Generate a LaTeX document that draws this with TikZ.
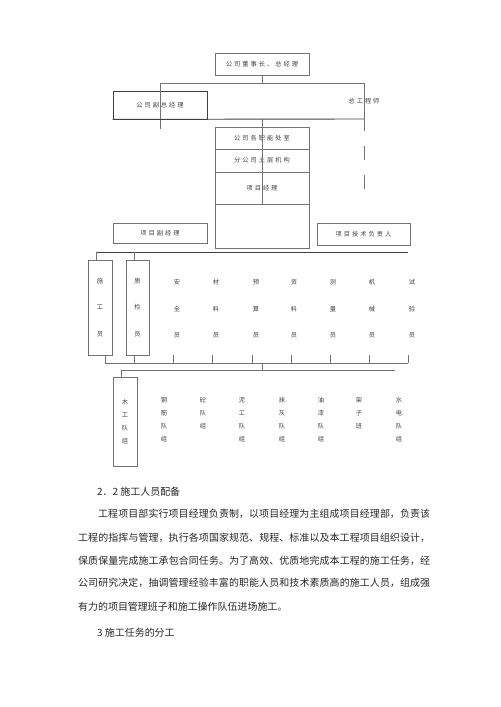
\documentclass[tikz,border=0pt]{standalone}
\usepackage{fontspec}
\newfontfamily\cjk{Noto Sans CJK SC}
\newfontfamily\cjksp[LetterSpace=32]{Noto Sans CJK SC}
\usetikzlibrary{positioning}
\XeTeXlinebreaklocale "zh"
\XeTeXlinebreakskip=0pt plus 1pt

\definecolor{linegray}{gray}{0.45}
\definecolor{textgray}{gray}{0.25}
\newcommand{\pxl}{0.4233mm}

\tikzset{
  orgbox/.style={draw=linegray, line width=0.6pt, inner sep=0pt, text=textgray,
    font=\cjksp\fontsize{7.5}{9}\selectfont},
  widebox/.style={orgbox, minimum width={94*\pxl}},
  slimbox/.style={orgbox, minimum width={24*\pxl}, align=center},
  conn/.style={draw=linegray, line width=0.6pt},
  busline/.style={draw=black!75, line width=1.1pt},
  colnode/.style={inner sep=0pt, anchor=north, align=center, text=textgray},
  bodyline/.style={inner sep=0pt, anchor=west, text=black!85,
    font=\cjk\fontsize{12}{14}\selectfont}
}

\begin{document}
\begin{tikzpicture}[x=\pxl, y=-\pxl]
  \useasboundingbox (0,0) rectangle (500,707);

  % company level
  \node[widebox, minimum height={22*\pxl}] (chair) at (262,64) {公司董事长、总经理};
  \node[widebox, minimum height={28*\pxl}, draw=black!75, line width=0.9pt] (vice) at (160,105) {公司副总经理};
  \node[inner sep=0pt, text=textgray, font=\cjksp\fontsize{7.5}{9}\selectfont] (chiefeng) at (364,101) {总工程师};

  \coordinate (busL) at (160,83);
  \coordinate (busR) at (364,83);
  \coordinate (viceDrop) at (160,129);
  \coordinate (engA) at (364,131);
  \coordinate (engB) at (364,146);
  \coordinate (engC) at (364,189);
  \coordinate (engBar) at (364,119);

  \draw[conn] (chair) -- (chair.south |- busL);
  \draw[conn] (busL) -- (busR);
  \draw[conn] (busL) -- (viceDrop);
  \draw[conn] (busR) -- (engA);
  \draw[conn, dash pattern=on 16.8pt off 18pt] (engB) -- (engC);
  \draw[busline] (vice.south west) -- (engBar);

  % branch / project stack
  \node[widebox, minimum height={22*\pxl}] (offices) at (262,138) {公司各职能处室};
  \node[widebox, minimum height={23*\pxl}] (branch) at (262,160.5) {分公司土层机构};
  \node[widebox, minimum height={32*\pxl}] (pm) at (262,188) {项目经理};
  \node[widebox, minimum height={44*\pxl}] (blank) at (262,226) {};
  \draw[conn] (offices.north |- engBar) -- (pm.south);

  \node[widebox, minimum height={20*\pxl}] (vpm) at (160,233) {项目副经理};
  \node[orgbox, minimum width={93*\pxl}, minimum height={22*\pxl}] (tech) at (363.5,234) {项目技术负责人};

  % staff
  \coordinate (bus2L) at (96,252);
  \coordinate (bus2Q) at (134,252);
  \coordinate (bus2R) at (408,252);
  \draw[busline] (bus2L) -- (bus2R);

  \node[slimbox, minimum height={95*\pxl}, font=\cjk\fontsize{7.5}{31.8}\selectfont] (shigong) at (100,307.5) {施\\工\\员};
  \node[slimbox, minimum width={23*\pxl}, minimum height={95*\pxl}, font=\cjk\fontsize{7.5}{31.8}\selectfont] (zhijian) at (137.5,307.5) {质\\检\\员};
  \draw[conn] (bus2L) -- (bus2L |- shigong.north);
  \draw[conn] (bus2Q) -- (bus2Q |- zhijian.north);

  \foreach \x/\nm/\txt in {177/anquan/安\\全\\员, 216/cailiao/材\\料\\员,
      256/yusuan/预\\算\\员, 294/ziliao/资\\料\\员, 333/celiang/测\\量\\员,
      372/jixie/机\\械\\员, 412/shiyan/试\\验\\员}
    \node[colnode, font=\cjk\fontsize{7.5}{31.8}\selectfont] (\nm) at (\x,279.5) {\txt};

  \coordinate (bus3L) at (105,363);
  \coordinate (bus3M) at (262,363);
  \coordinate (bus3R) at (408,363);
  \foreach \x in {105,134,173,212,252,291,330,369,408}
    \draw[conn] (\x,355) -- (\x,363);
  \draw[conn] (bus3L) -- (bus3R);

  % work teams
  \coordinate (bus4M) at (262,370);
  \coordinate (bus4L) at (121,370);
  \coordinate (bus4R) at (395,370);
  \draw[conn] (bus3M) -- (bus4M);
  \draw[conn] (bus4L) -- (bus4R);

  \node[slimbox, minimum height={89*\pxl}, font=\cjk\fontsize{7.5}{15.6}\selectfont] (mugong) at (125,421.5) {木\\工\\队\\组};
  \draw[conn] (bus4L) -- (bus4L |- mugong.north);

  \foreach \x/\nm/\txt in {164/gangjin/钢\\筋\\队\\组, 203/tong/砼\\队\\组,
      242/nigong/泥\\工\\队\\组, 282/mohui/抹\\灰\\队\\组, 321/youqi/油\\漆\\队\\组,
      359/jiazi/架\\子\\班, 399/shuidian/水\\电\\队\\组}
    \node[colnode, font=\cjk\fontsize{7.5}{15.6}\selectfont] (\nm) at (\x,397.5) {\txt};

  % text below the chart
  \node[bodyline] (sec22) at (97,492) {2．2 施工人员配备};
  \node[bodyline, text width={332*\pxl}, align=justify,
    execute at begin node={\parfillskip=0pt\relax}] (para1) at (98,514)
    {工程项目部实行项目经理负责制，以项目经理为主组成项目经理部，负责该};
  \node[bodyline, text width={352*\pxl}, align=justify,
    execute at begin node={\parfillskip=0pt\relax}] (para2) at (78,538)
    {工程的指挥与管理，执行各项国家规范、规程、标准以及本工程项目组织设计，};
  \node[bodyline, text width={352*\pxl}, align=justify,
    execute at begin node={\parfillskip=0pt\relax}] (para3) at (78,561)
    {保质保量完成施工承包合同任务。为了高效、优质地完成本工程的施工任务，经};
  \node[bodyline, text width={352*\pxl}, align=justify,
    execute at begin node={\parfillskip=0pt\relax}] (para4) at (78,583)
    {公司研究决定，抽调管理经验丰富的职能人员和技术素质高的施工人员，组成强};
  \node[bodyline] (para5) at (78,607) {有力的项目管理班子和施工操作队伍进场施工。};
  \node[bodyline] (sec3) at (97,633) {3 施工任务的分工};
\end{tikzpicture}
\end{document}
